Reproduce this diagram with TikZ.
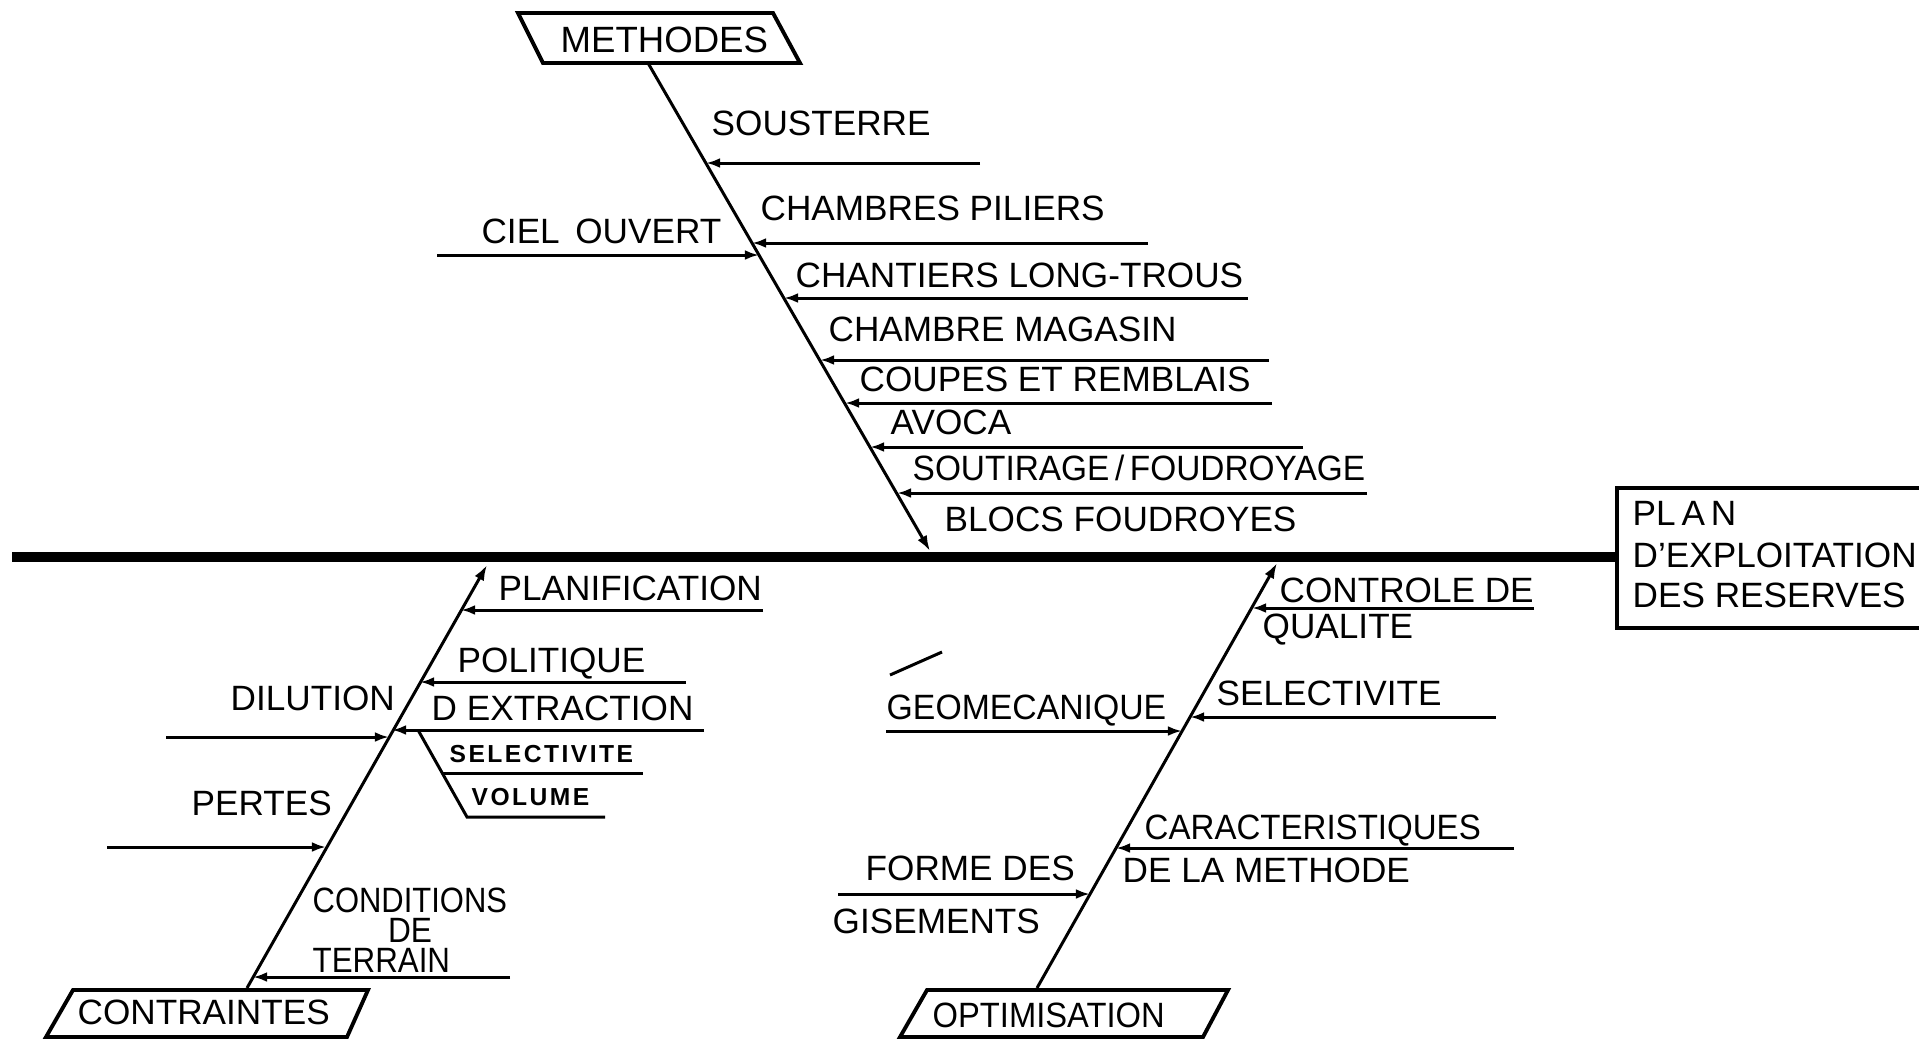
\documentclass[tikz,border=0pt]{standalone}
\usepackage{fontspec}
\usepackage{graphicx}
\setmainfont{Liberation Sans}
\newfontfamily\tagfont[LetterSpace=10]{Liberation Sans}
\usetikzlibrary{arrows.meta,calc}

\tikzset{
  lbl/.style={anchor=base west, inner sep=0pt, font=\fontsize{10}{12}\selectfont},
  lble/.style={lbl, anchor=base east},
  lblc/.style={lbl, anchor=base},
  tag/.style={anchor=base west, inner sep=0pt, font=\tagfont\bfseries\fontsize{7}{8}\selectfont},
  spine/.style={line width=3pt},
  bone/.style={line width=0.85pt, -{Latex[length=4.4pt,width=3pt]}},
  twig/.style={line width=0.85pt, -{Latex[length=4pt,width=2.8pt]}},
  plain/.style={line width=0.85pt},
  frame/.style={line width=1.1pt, line join=miter},
}

\begin{document}
\begin{tikzpicture}[x=0.01cm, y=-0.01cm]
\useasboundingbox (0,0) rectangle (1919,1042);

% ---------- head box and main spine ----------
\draw[frame] (1919,488) -- (1617,488) -- (1617,628) -- (1919,628);
\node[lbl] (plan1) at (1632,525) {PL\,A\,N};
\node[lbl] (plan2) at (1632,567) {D'EXPLOITATION};
\node[lbl] (plan3) at (1632,607) {DES RESERVES};
\coordinate (head) at (1617,557);
\coordinate (tail) at (12,557);
\draw[spine] (tail) -- (head);

% ---------- METHODES ----------
\draw[frame] (518,13) -- (773,13) -- (800,63) -- (543,63) -- cycle;
\node[lbl, font=\fontsize{10.4}{12}\selectfont] (methodes) at (560,52) {METHODES};
\coordinate (m0) at (648,63);
\coordinate (m1) at (930,551);
\draw[bone] (m0) -- (m1);

\node[lbl] (sousterre) at (711,135) {SOUSTERRE};
\coordinate (sousterreA) at (980,163);
\coordinate (sousterreB) at (706,163);
\draw[twig] (sousterreA) -- (sousterreB);

\node[lbl] (piliers) at (760,220) {CHAMBRES PILIERS};
\coordinate (piliersA) at (1148,243);
\coordinate (piliersB) at (752,243);
\draw[twig] (piliersA) -- (piliersB);

\node[lble] (ciel) at (722,243) {CIEL\, OUVERT};
\coordinate (cielA) at (437,255);
\coordinate (cielB) at (759,255);
\draw[twig] (cielA) -- (cielB);

\node[lbl] (chantiers) at (795,287) {CHANTIERS LONG-TROUS};
\coordinate (chantiersA) at (1248,298);
\coordinate (chantiersB) at (784,298);
\draw[twig] (chantiersA) -- (chantiersB);

\node[lbl] (magasin) at (828,341) {CHAMBRE MAGASIN};
\coordinate (magasinA) at (1269,360);
\coordinate (magasinB) at (820,360);
\draw[twig] (magasinA) -- (magasinB);

\node[lbl] (coupes) at (859,391) {COUPES ET REMBLAIS};
\coordinate (coupesA) at (1272,403);
\coordinate (coupesB) at (845,403);
\draw[twig] (coupesA) -- (coupesB);

\node[lbl] (avoca) at (890,434) {AVOCA};
\coordinate (avocaA) at (1303,447);
\coordinate (avocaB) at (870,447);
\draw[twig] (avocaA) -- (avocaB);

\node[lbl] (soutirage) at (912,480) {\scalebox{0.95}[1]{SOUTIRAGE\,/\,FOUDROYAGE}};
\coordinate (soutirageA) at (1367,493);
\coordinate (soutirageB) at (897,493);
\draw[twig] (soutirageA) -- (soutirageB);

\node[lbl] (blocs) at (944,531) {BLOCS FOUDROYES};

% ---------- CONTRAINTES ----------
\draw[frame] (73,990) -- (368,990) -- (347,1037) -- (46,1037) -- cycle;
\node[lbl] (contraintes) at (77,1024) {CONTRAINTES};
\coordinate (c0) at (247,988);
\coordinate (c1) at (487,565);
\draw[bone] (c0) -- (c1);

\node[lbl] (planif) at (498,600) {PLANIFICATION};
\coordinate (planifA) at (763,610);
\coordinate (planifB) at (461,610);
\draw[twig] (planifA) -- (planifB);

\node[lbl] (politique) at (457,672) {POLITIQUE};
\coordinate (politiqueA) at (686,682);
\coordinate (politiqueB) at (420,682);
\draw[twig] (politiqueA) -- (politiqueB);

\node[lbl] (extraction) at (431,720) {D EXTRACTION};
\coordinate (extractionA) at (704,730);
\coordinate (extractionB) at (392,730);
\draw[twig] (extractionA) -- (extractionB);

% sub-branch hanging from the extraction line
\coordinate (sub0) at (418,730);
\coordinate (sub1) at (467,817);
\coordinate (selA) at (442,773);
\coordinate (selB) at (643,773);
\coordinate (volB) at (605,817);
\draw[plain] (sub0) -- (sub1) -- (volB);
\draw[plain] (selA) -- (selB);
\node[tag] (selectiviteL) at (449,762) {SELECTIVITE};
\node[tag] (volume) at (471,805) {VOLUME};

\node[lbl] (dilution) at (230,710) {DILUTION};
\coordinate (dilutionA) at (166,737);
\coordinate (dilutionB) at (389,737);
\draw[twig] (dilutionA) -- (dilutionB);

\node[lbl] (pertes) at (191,815) {PERTES};
\coordinate (pertesA) at (107,847);
\coordinate (pertesB) at (326,847);
\draw[twig] (pertesA) -- (pertesB);

\node[lbl] (conditions) at (312,912) {\scalebox{0.88}[1]{CONDITIONS}};
\node[lblc] (de) at (410,942) {\scalebox{0.9}[1]{DE}};
\node[lbl] (terrain) at (312,972) {\scalebox{0.89}[1]{TERRAIN}};
\coordinate (terrainA) at (510,977);
\coordinate (terrainB) at (253,977);
\draw[twig] (terrainA) -- (terrainB);

% ---------- OPTIMISATION ----------
\draw[frame] (927,990) -- (1228,990) -- (1203,1037) -- (900,1037) -- cycle;
\node[lbl] (optimisation) at (932,1027) {\scalebox{0.93}[1]{OPTIMISATION}};
\coordinate (o0) at (1037,988);
\coordinate (o1) at (1277,563);
\draw[bone] (o0) -- (o1);

\node[lbl] (controle) at (1279,602) {CONTROLE DE};
\node[lbl] (qualite) at (1262,638) {QUALITE};
\coordinate (controleA) at (1534,608);
\coordinate (controleB) at (1252,608);
\draw[twig] (controleA) -- (controleB);

\node[lbl] (selectiviteR) at (1216,705) {SELECTIVITE};
\coordinate (selectiviteA) at (1496,717);
\coordinate (selectiviteB) at (1190,717);
\draw[twig] (selectiviteA) -- (selectiviteB);

\node[lbl] (geomecanique) at (886,719) {\scalebox{0.96}[1]{GEOMECANIQUE}};
\coordinate (geomecaniqueA) at (886,731);
\coordinate (geomecaniqueB) at (1182,731);
\draw[twig] (geomecaniqueA) -- (geomecaniqueB);
\coordinate (markA) at (890,675);
\coordinate (markB) at (942,652);
\draw[plain] (markA) -- (markB);

\node[lbl] (caract) at (1144,839) {\scalebox{0.94}[1]{CARACTERISTIQUES}};
\node[lbl] (methode) at (1122,882) {DE LA METHODE};
\coordinate (caractA) at (1514,848);
\coordinate (caractB) at (1116,848);
\draw[twig] (caractA) -- (caractB);

\node[lbl] (forme) at (865,880) {FORME DES};
\node[lbl] (gisements) at (832,933) {GISEMENTS};
\coordinate (formeA) at (838,894);
\coordinate (formeB) at (1090,894);
\draw[twig] (formeA) -- (formeB);

\end{tikzpicture}
\end{document}
